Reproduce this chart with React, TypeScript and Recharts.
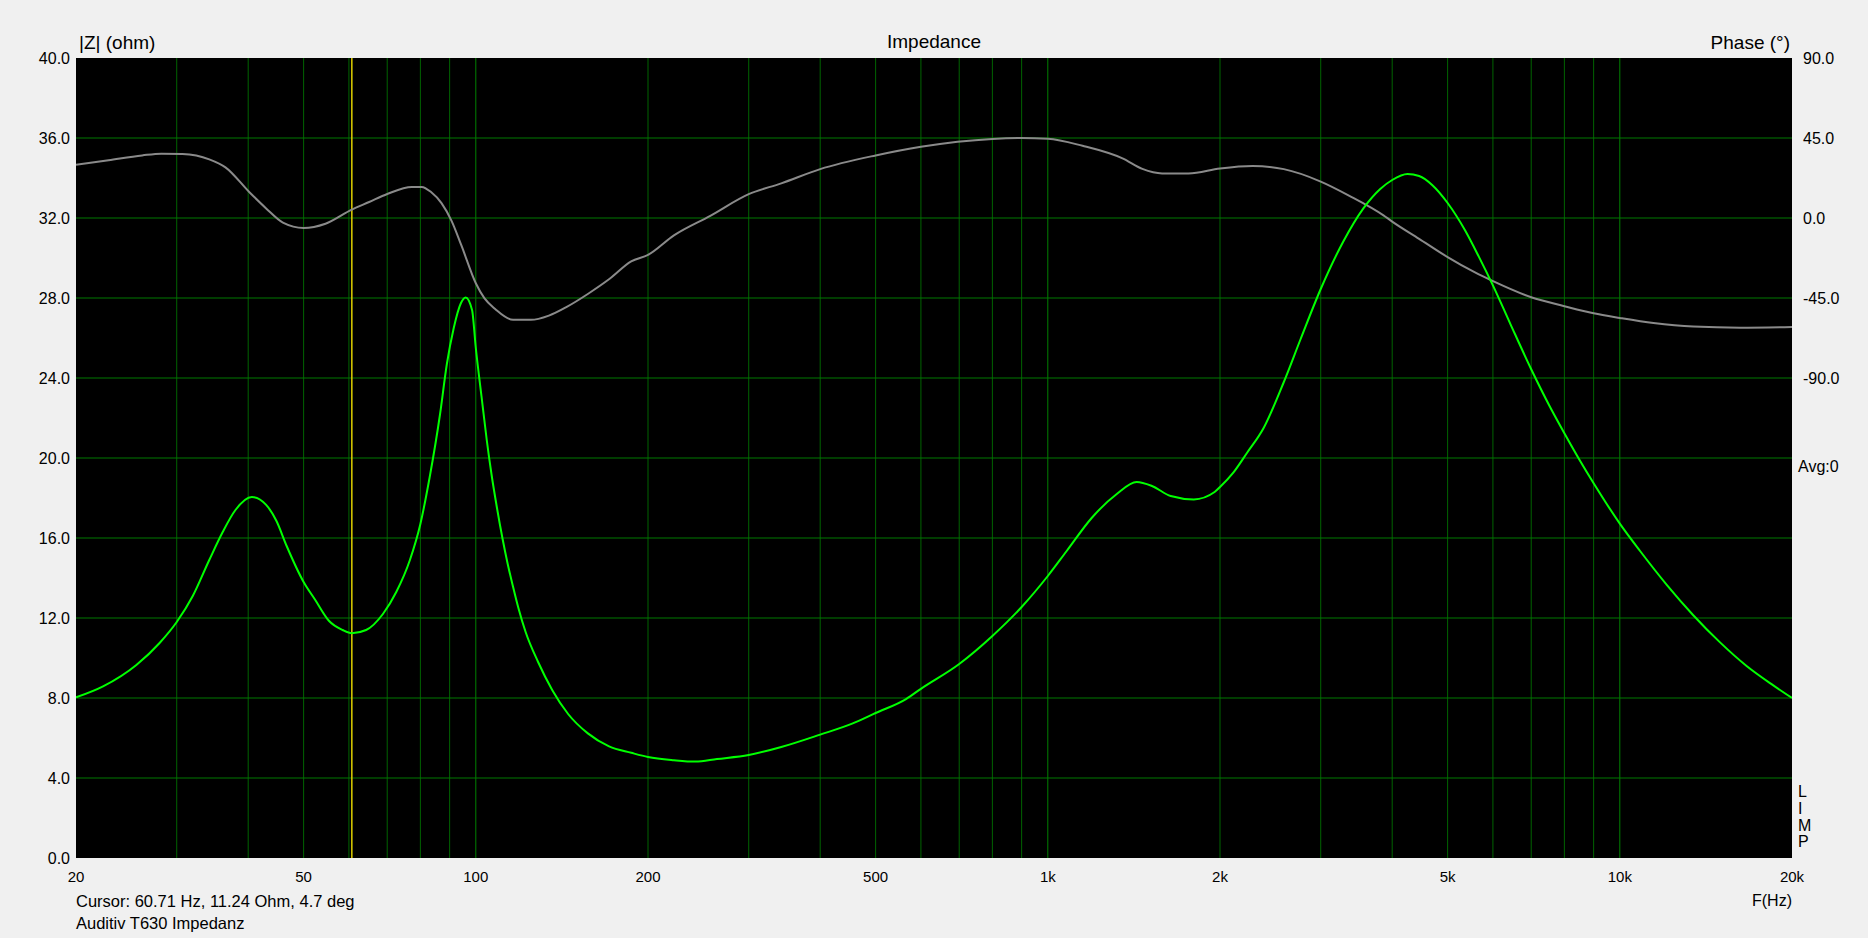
import React from "react";
import {
  LineChart,
  Line,
  XAxis,
  YAxis,
  CartesianGrid,
  ReferenceLine,
} from "recharts";

// |Z| curve (Hz / ohm)
const impFreq = [
  20, 22.3, 25.5, 28, 30, 32, 34.2, 36.1, 38, 40.6, 43, 44.8, 46.7, 50, 52.4,
  55.4, 58.5, 60.7, 64.3, 68.8, 72.6, 76.7, 80, 83, 86.6, 89, 91.5, 94.2, 96,
  98.5, 100, 102.3, 104.5, 106.5, 108.9, 111.3, 113.7, 116.2, 118.7, 122.2,
  128.5, 136, 145, 157, 171, 187, 200, 222, 242, 264, 300, 342, 400, 456, 500,
  566, 600, 700, 800, 900, 1000, 1079, 1193, 1320, 1430, 1521, 1640, 1800,
  1957, 2000, 2110, 2229, 2384, 2586, 2767, 3000, 3282, 3562, 3812, 4000, 4254,
  4458, 4703, 5000, 5372, 5666, 6000, 6435, 7000, 7524, 8000, 8530, 9000,
  10000, 10850, 12080, 13440, 14970, 16660, 18550, 20000,
];
const impOhm = [
  8.03, 8.58, 9.65, 10.75, 11.8, 13.1, 14.9, 16.3, 17.4, 18.05, 17.66, 16.86,
  15.6, 13.8, 12.9, 11.85, 11.4, 11.24, 11.4, 12.2, 13.3, 14.9, 16.7, 19.0,
  22.2, 24.7, 26.5, 27.75, 28.03, 27.4, 25.5, 23.1, 20.9, 19.2, 17.5, 16.0,
  14.7, 13.55, 12.5, 11.3, 9.8, 8.4, 7.2, 6.23, 5.58, 5.26, 5.05, 4.89, 4.82,
  4.95, 5.15, 5.55, 6.17, 6.73, 7.25, 7.96, 8.46, 9.7, 11.1, 12.55, 14.1,
  15.35, 17.0, 18.2, 18.8, 18.6, 18.1, 17.93, 18.3, 18.55, 19.27, 20.25, 21.5,
  23.8, 25.95, 28.45, 30.8, 32.48, 33.45, 33.9, 34.2, 34.1, 33.64, 32.75,
  31.35, 30.08, 28.63, 26.71, 24.44, 22.64, 21.24, 19.84, 18.74, 16.72, 15.35,
  13.66, 12.14, 10.78, 9.6, 8.63, 8.0,
];

// phase curve (Hz / degrees)
const phaseFreq = [
  20, 22.8, 26.1, 28.2, 30.7, 34.2, 36.5, 40.2, 43, 46, 50, 54.6, 60.7, 65.1,
  70, 77.3, 80.4, 83.6, 87.1, 90.7, 94.4, 100, 103.5, 108.1, 116.2, 124.8,
  134.2, 144.2, 157.2, 171.4, 186.9, 200, 222, 257, 300, 342, 400, 500, 600,
  800, 900, 1000, 1150, 1351, 1463, 1584, 1762, 2000, 2279, 2586, 3000, 3367,
  3862, 4000, 4458, 5000, 5572, 6000, 7000, 8000, 9000, 10000, 11450, 13440,
  16230, 20000,
];
const phaseDeg = [
  29.9, 32.5, 35.2, 36.2, 36.0, 33.0, 28.5, 14.5, 5.4, -2.6, -5.6, -3.2, 4.7,
  9.0, 13.5, 17.5, 17.5, 14.5, 8.4, -1.6, -15.6, -36.7, -45.1, -51.2, -57.3,
  -57.3, -54.9, -50.0, -42.6, -34.2, -24.4, -20.8, -9.8, 1.2, 13.4, 19.5, 27.5,
  35.2, 40.1, 44.5, 45.0, 44.6, 40.6, 33.5, 27.6, 25.1, 25.1, 27.9, 29.3, 27.5,
  20.5, 12.5, 1.5, -2.0, -11.7, -22.0, -30.5, -35.5, -44.6, -49.6, -53.6,
  -56.2, -59.1, -61.1, -61.7, -61.3,
];

const labelFreqs = [20, 50, 100, 200, 500, 1000, 2000, 5000, 10000, 20000];
const minorFreqs = [
  30, 40, 50, 60, 70, 80, 90, 200, 300, 400, 500, 600, 700, 800, 900, 2000,
  3000, 4000, 5000, 6000, 7000, 8000, 9000,
];
const majorFreqs = [100, 1000, 10000];
const ohmTicks = [0, 4, 8, 12, 16, 20, 24, 28, 32, 36, 40];
const ohmGrid = [4, 8, 12, 16, 20, 24, 28, 32, 36];
const phaseTicks = [-90, -45, 0, 45, 90];
const cursorFreq = 60.71;

const impData = impFreq.map((f, i) => ({ f, z: impOhm[i] }));
const phaseData = phaseFreq.map((f, i) => ({ f, ph: phaseDeg[i] }));

const FONT = "'Liberation Sans', Arial, sans-serif";
const yTickStyle = { fill: "#000", fontSize: 16, fontFamily: FONT };
const xTickStyle = { fill: "#000", fontSize: 15, fontFamily: FONT };

const fmtFreq = (f: number) => (f >= 1000 ? `${f / 1000}k` : `${f}`);

export default function App() {
  return (
    <div
      style={{
        position: "fixed",
        left: 0,
        top: 0,
        width: 1868,
        height: 938,
        background: "#f0f0f0",
        fontFamily: FONT,
      }}
    >
      <LineChart
        width={1868}
        height={938}
        margin={{ top: 58, right: 6, bottom: 40, left: 6 }}
      >
        <CartesianGrid
          fill="#000"
          fillOpacity={1}
          horizontal={false}
          vertical={false}
        />
        <XAxis
          dataKey="f"
          type="number"
          scale="log"
          domain={[20, 20000]}
          ticks={labelFreqs}
          interval={0}
          tickFormatter={fmtFreq}
          tick={xTickStyle}
          tickLine={false}
          axisLine={false}
          tickMargin={7}
          height={40}
          allowDataOverflow
        />
        <YAxis
          domain={[0, 40]}
          ticks={ohmTicks}
          interval={0}
          tickFormatter={(v: number) => v.toFixed(1)}
          tick={yTickStyle}
          tickLine={false}
          axisLine={false}
          tickMargin={0}
          width={70}
        />
        <YAxis
          yAxisId="ph"
          orientation="right"
          domain={[-360, 90]}
          ticks={phaseTicks}
          interval={0}
          tickFormatter={(v: number) => v.toFixed(1)}
          tick={yTickStyle}
          tickLine={false}
          axisLine={false}
          tickMargin={5}
          width={70}
        />
        {minorFreqs.map((f) => (
          <ReferenceLine key={`m${f}`} x={f} stroke="#006400" strokeWidth={1} />
        ))}
        {majorFreqs.map((f) => (
          <ReferenceLine key={`M${f}`} x={f} stroke="#008000" strokeWidth={1} />
        ))}
        {ohmGrid.map((v) => (
          <ReferenceLine key={`h${v}`} y={v} stroke="#007800" strokeWidth={1} />
        ))}
        <ReferenceLine x={cursorFreq} stroke="#e0d000" strokeWidth={1.5} />
        <Line
          data={phaseData}
          dataKey="ph"
          yAxisId="ph"
          type="monotone"
          stroke="#8a8a8a"
          strokeWidth={2}
          dot={false}
          activeDot={false}
          isAnimationActive={false}
        />
        <Line
          data={impData}
          dataKey="z"
          type="monotone"
          stroke="#00ff00"
          strokeWidth={2}
          dot={false}
          activeDot={false}
          isAnimationActive={false}
        />
      </LineChart>
      <svg
        width={1868}
        height={938}
        style={{ position: "absolute", left: 0, top: 0, pointerEvents: "none" }}
        fontFamily={FONT}
        fill="#000"
      >
        <text x={79} y={49} fontSize={19}>|Z| (ohm)</text>
        <text x={934} y={48} fontSize={19} textAnchor="middle">Impedance</text>
        <text x={1790} y={49} fontSize={19} textAnchor="end">Phase (°)</text>
        <text x={1798} y={472} fontSize={16}>Avg:0</text>
        <text x={1798} y={797} fontSize={16}>L</text>
        <text x={1798} y={814} fontSize={16}>I</text>
        <text x={1798} y={831} fontSize={16}>M</text>
        <text x={1798} y={847} fontSize={16}>P</text>
        <text x={1792} y={906} fontSize={16} textAnchor="end">F(Hz)</text>
        <text x={76} y={907} fontSize={16.5}>Cursor: 60.71 Hz, 11.24 Ohm, 4.7 deg</text>
        <text x={76} y={929} fontSize={16.5}>Auditiv T630 Impedanz</text>
      </svg>
    </div>
  );
}
